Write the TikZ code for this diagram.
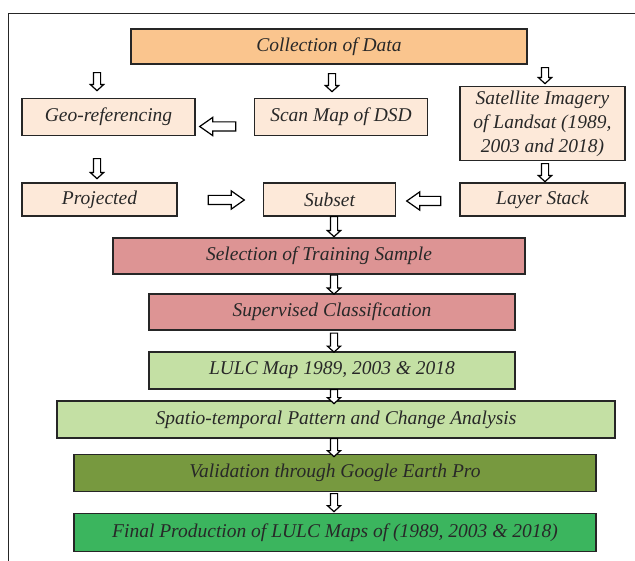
\documentclass[tikz,border=0pt]{standalone}
\usepackage{fontspec}
\setmainfont{Liberation Serif}
\usetikzlibrary{shapes.arrows,calc}
\definecolor{cOrange}{RGB}{250,197,142}
\definecolor{cPeach}{RGB}{253,233,217}
\definecolor{cPink}{RGB}{221,148,148}
\definecolor{cLGreen}{RGB}{196,224,164}
\definecolor{cOlive}{RGB}{119,153,63}
\definecolor{cGreen}{RGB}{59,181,94}
\definecolor{cText}{RGB}{40,40,40}
\begin{document}
\begin{tikzpicture}[x=1pt,y=-1pt,
  box/.style={draw=black!85, line width=1.4pt, inner sep=0pt, align=center,
    font=\fontsize{19.5}{24}\selectfont\itshape, text=cText},
  arrbase/.style={single arrow, draw=black, fill=white, line width=1.2pt, inner sep=0pt,
    single arrow head indent=0pt},
  darr/.style={arrbase, shape border rotate=270, minimum width=12.5pt, minimum height=#1,
    single arrow head extend=3pt, single arrow tip angle=95, text width=6pt},
  harr/.style={arrbase, minimum width=18pt, minimum height=#1,
    single arrow head extend=4.5pt, single arrow tip angle=70, text height=8pt, text width=0pt},
]
\useasboundingbox (0,0) rectangle (635,561);
\draw[line width=0.9pt, black!85] (8,561) -- (8,13) -- (635,13);

\node[box, fill=cOrange, minimum width=396pt, minimum height=35pt] (coll) at (329,46.5) {Collection of Data};
\node[box, fill=cPeach, minimum width=173pt, minimum height=37pt] (geo) at (108.5,117) {Geo-referencing};
\node[box, fill=cPeach, minimum width=173pt, minimum height=37pt] (scan) at (341,117) {Scan Map of DSD};
\node[box, fill=cPeach, minimum width=165pt, minimum height=74pt] (sat) at (542.5,123.5) {Satellite Imagery\\of Landsat (1989,\\2003 and 2018)};
\node[box, fill=cPeach, minimum width=155pt, minimum height=33pt] (proj) at (99.5,199.5) {Projected};
\node[box, fill=cPeach, minimum width=132pt, minimum height=33pt] (subset) at (329.5,199.5) {Subset};
\node[box, fill=cPeach, minimum width=165pt, minimum height=33pt] (layer) at (542.5,199.5) {Layer Stack};
\node[box, fill=cPink, minimum width=412pt, minimum height=36pt] (sel) at (319,256) {Selection of Training Sample};
\node[box, fill=cPink, minimum width=366pt, minimum height=36pt] (sup) at (332,312) {Supervised Classification};
\node[box, fill=cLGreen, minimum width=366pt, minimum height=37pt] (lulc) at (332,370.5) {LULC Map 1989, 2003 \& 2018};
\node[box, fill=cLGreen, minimum width=558pt, minimum height=37pt] (spat) at (336,419.5) {Spatio-temporal Pattern and Change Analysis};
\node[box, fill=cOlive, minimum width=522pt, minimum height=37pt] (val) at (335,473) {Validation through Google Earth Pro};
\node[box, fill=cGreen, minimum width=522pt, minimum height=38pt] (fin) at (335,532.5) {Final Production of LULC Maps of (1989, 2003 \& 2018)};

% block arrows between the boxes
\node[darr=18pt] (a1) at (97,80) {};
\node[darr=18pt] (a2) at (332,81) {};
\node[darr=16pt] (a3) at (545,74) {};
\node[darr=20pt] (a4) at (97,167) {};
\node[darr=18pt] (a5) at (545,171) {};
\node[harr=36pt, shape border rotate=180] (a6) at (221,126.5) {};
\node[harr=36pt] (a7) at (223,200) {};
\node[harr=34pt, shape border rotate=180] (a8) at (427,201) {};
\node[darr=20pt] (a9) at (334,225) {};
\node[darr=19pt] (a10) at (334,283) {};
\node[darr=19pt] (a11) at (334,341) {};
\node[darr=14pt] (a12) at (334,395) {};
\node[darr=18pt] (a13) at (334,446) {};
\node[darr=18pt] (a14) at (334,501) {};
\end{tikzpicture}
\end{document}
